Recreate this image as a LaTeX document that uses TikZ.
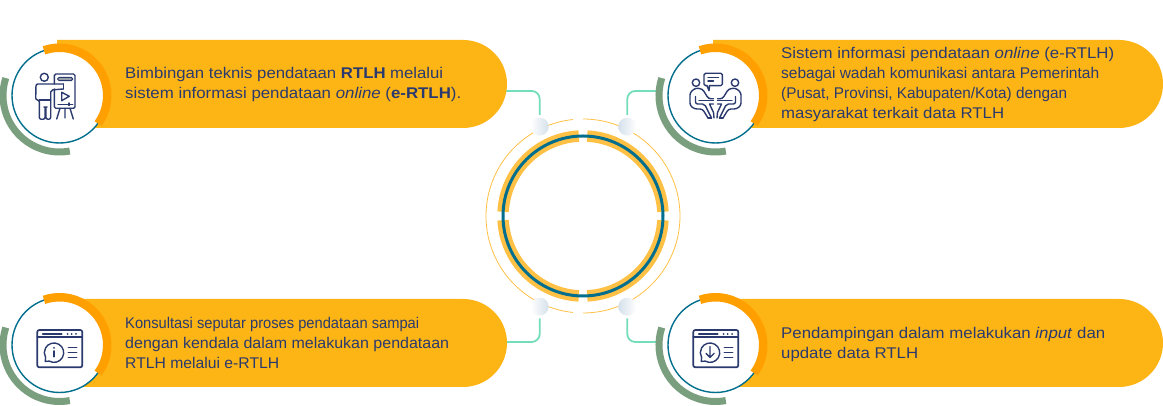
\documentclass[tikz,border=0pt]{standalone}
\usepackage{graphicx}
\usepackage{fontspec}
\setmainfont{Liberation Sans}
\definecolor{pillc}{HTML}{FDB515}
\definecolor{orangec}{HTML}{FF9F00}
\definecolor{greenc}{HTML}{7A9F7F}
\definecolor{tealc}{HTML}{006E8C}
\definecolor{bandc}{HTML}{FFC145}
\definecolor{connc}{HTML}{74DDBB}
\definecolor{navyc}{HTML}{2B3A6E}
\definecolor{dotc}{HTML}{D5E0EB}
\definecolor{barc}{HTML}{9AA0A8}
\newcommand{\fitline}[2]{\resizebox{#1pt}{\height}{#2}}
\tikzset{
  pill/.style={fill=pillc,draw=none},
  conn/.style={draw=connc,line width=1.8pt,rounded corners=8pt},
  dotshade/.style={circle,minimum size=18pt,inner sep=0pt,draw=none,left color=dotc,right color=white},
  dotshader/.style={circle,minimum size=18pt,inner sep=0pt,draw=none,left color=white,right color=dotc},
  thinring/.style={draw=bandc,line width=0.8pt},
  band/.style={draw=bandc,line width=11.5pt},
  mainring/.style={draw=tealc,line width=3pt},
  label/.style={anchor=west,inner sep=0pt,align=left,text=navyc,font=\fontsize{15.5}{20}\selectfont},
  ic/.style={draw=navyc,line width=1.4pt,line join=round,line cap=round,fill=none}
}
\newcommand{\ringset}[2]{%
  \begin{scope}[shift={(#1,#2)}]
    \fill[white] (0,0) circle (47.5);
    \draw[tealc,line width=1.4pt] (0,0) circle (47.5);
    \draw[draw=greenc,line width=7pt] (162:56.5) arc (162:280.5:56.5);
    \draw[draw=orangec,line width=8.5pt] (109:47.75) arc (109:-36:47.75);
  \end{scope}}
\newcommand{\windowicon}[2]{%
  \begin{scope}[shift={(#1,#2)},yscale=-1]
    \draw[ic,rounded corners=2pt,line width=1.7pt] (-22.2,-15) rectangle (22.8,22.3);
    \draw[ic,line width=1.6pt] (-22.2,-7.7) -- (22.8,-7.7);
    \draw[ic,line width=1.6pt] (-16.8,-11) -- (2.2,-11);
    \fill[navyc] (8.2,-11) circle (1) (12.2,-11) circle (1) (16.5,-11) circle (1);
    \draw[ic] (-14.2,16.5) -- (-10.35,16.1) arc (120:-210:9.7) -- cycle;
    \draw[ic] (8.8,2.3) -- (17.2,2.3) (8.8,7.7) -- (17.2,7.7) (8.8,12.7) -- (17.2,12.7);
  \end{scope}}
\begin{document}
\begin{tikzpicture}[x=1pt,y=1pt]
\useasboundingbox (0,0) rectangle (1163,406);
\fill[white] (0,0) rectangle (1163,406);

% centre rings
\begin{scope}[shift={(583,190)}]
  \draw[thinring] (90:97) arc (90:-90:97);
  \draw[thinring] (-96:97) arc (-96:-264:97);
  \draw[band] (87:80) arc (87:3:80);
  \draw[band] (-3:80) arc (-3:-87:80);
  \draw[band] (-93:80) arc (-93:-177:80);
  \draw[band] (177:80) arc (177:93:80);
  \draw[mainring] (0,0) circle (80);
\end{scope}

% anchors and dots
\node[dotshader] (dotTL) at (539.7,279.4) {};
\node[dotshade] (dotTR) at (627.3,279.4) {};
\node[dotshader] (dotBL) at (539.7,99.4) {};
\node[dotshade] (dotBR) at (627.3,99.4) {};
\coordinate (pillTL) at (500,315);
\coordinate (pillBL) at (500,64);
\coordinate (ringTR) at (660,315);
\coordinate (ringBR) at (660,64);

% connectors
\draw[conn,shorten >=2.5pt] (pillTL) -| (dotTL.north);
\draw[conn,shorten >=2.5pt] (ringTR) -| (dotTR.north);
\draw[conn,shorten >=2.5pt] (pillBL) -| (dotBL.south);
\draw[conn,shorten >=2.5pt] (ringBR) -| (dotBR.south);

% pills
\fill[pill] (57,366) -- (463,366) arc (90:-90:44) -- (57,278) -- cycle;
\fill[pill] (713,366) -- (1119,366) arc (90:-90:44) -- (713,278) -- cycle;
\fill[pill] (57,107) -- (463,107) arc (90:-90:44) -- (57,19) -- cycle;
\fill[pill] (713,107) -- (1119,107) arc (90:-90:44) -- (713,19) -- cycle;

% rings at the pills
\ringset{59.5}{310.5}
\ringset{715.5}{310.5}
\ringset{59.5}{61}
\ringset{715.5}{61}

% presenter icon
\begin{scope}[shift={(59.5,310.5)},yscale=-1,xshift=-59.5pt,yshift=-95.5pt]
  \draw[ic] (44.3,77.3) circle (4);
  \draw[ic,rounded corners=1.5pt] (54.3,84) -- (54.3,74) -- (75,74) -- (75,108.3) -- (54.3,108.3) -- (54.3,89);
  \draw[draw=navyc,fill=barc,line width=1pt,rounded corners=1.5pt] (57.7,77.3) rectangle (72.7,80.7);
  \draw[ic] (61.7,92.3) -- (61.7,100.7) -- (69.3,96.3) -- cycle;
  \draw[ic] (58,104.3) -- (72.7,104.3) (69,103) -- (69,105.5);
  \draw[ic] (60,108.3) -- (56.7,119) (65,108.3) -- (65,118) (70,108.3) -- (73.3,119);
  \draw[ic,rounded corners=2pt] (63.3,84) -- (36,84) -- (35.7,100) -- (39.3,100) -- (39.3,119.3) -- (45,119.3) -- (45,107) -- (46,107) -- (46,119.3) -- (50.7,119.3) -- (50.7,90) -- (63.3,89);
  \draw[ic] (63.3,84) -- (63.3,89);
  \draw[ic] (39.3,100) -- (50.7,100);
\end{scope}

% talk icon
\begin{scope}[shift={(715.5,310.5)},yscale=-1]
  \draw[ic,rounded corners=1.5pt] (-6,-9.8) -- (6.8,-9.8) -- (6.8,-22.2) -- (-11.5,-22.2) -- (-11.5,-9.8) -- (-8.5,-9.8);
  \draw[ic] (-8.5,-9.8) -- (-6.5,-4.8) -- (-6,-9.8);
  \draw[ic] (-7.5,-17.8) -- (3,-17.8) (-7.5,-14.5) -- (-2,-14.5);
  \foreach \s in {1,-1}{
  \begin{scope}[xscale=\s]
    \draw[ic] (-19.5,-12.8) circle (3.7);
    \draw[ic,rounded corners=2.5pt] (-2,3.3) -- (-7,3.3) -- (-13,-6.5) -- (-20,-7.5) -- (-25.5,-3) -- (-25.5,10) -- (-21,13.5) -- (-13,13.5) -- (-7.5,22.5);
    \draw[ic] (-7.5,22.5) -- (-4,22.5);
    \draw[ic,rounded corners=2pt] (-4,22.5) -- (-11,8.5) -- (-20,8.5) -- (-20,1);
    \draw[ic] (-16.5,4.8) -- (-2,4.8);
    \draw[ic] (-2,8.5) -- (-6,8.5) -- (-2,17) -- (-1.5,22.5);
  \end{scope}}
\end{scope}

% window icons
\windowicon{59.5}{61}
\windowicon{715.5}{61}
\begin{scope}[shift={(59.5,61)},yscale=-1]
  \fill[navyc] (-5.5,2.9) circle (1.1);
  \draw[ic,line width=1.6pt] (-5.5,6) -- (-5.5,11.8);
\end{scope}
\begin{scope}[shift={(715.5,61)},yscale=-1]
  \draw[ic] (-5.5,1.5) -- (-5.5,12.5) (-9.5,8.5) -- (-5.5,12.5) -- (-1.5,8.5);
\end{scope}

% texts
\node[label] (t1) at (125,321.5) {\fitline{318}{Bimbingan teknis pendataan \textbf{RTLH} melalui}\\\fitline{336}{sistem informasi pendataan \textit{online} (\textbf{e-RTLH}).}};
\node[label] (t2) at (781,322) {\fitline{333}{Sistem informasi pendataan \textit{online} (e-RTLH)}\\\fitline{318}{sebagai wadah komunikasi antara Pemerintah}\\\fitline{286}{(Pusat, Provinsi, Kabupaten/Kota) dengan}\\\fitline{223}{masyarakat terkait data RTLH}};
\node[label] (t3) at (125,63) {\fitline{294}{Konsultasi seputar proses pendataan sampai}\\\fitline{324}{dengan kendala dalam melakukan pendataan}\\\fitline{154}{RTLH melalui e-RTLH}};
\node[label] (t4) at (781,62) {\fitline{324}{Pendampingan dalam melakukan \textit{input} dan}\\\fitline{137}{update data RTLH}};
\end{tikzpicture}
\end{document}
